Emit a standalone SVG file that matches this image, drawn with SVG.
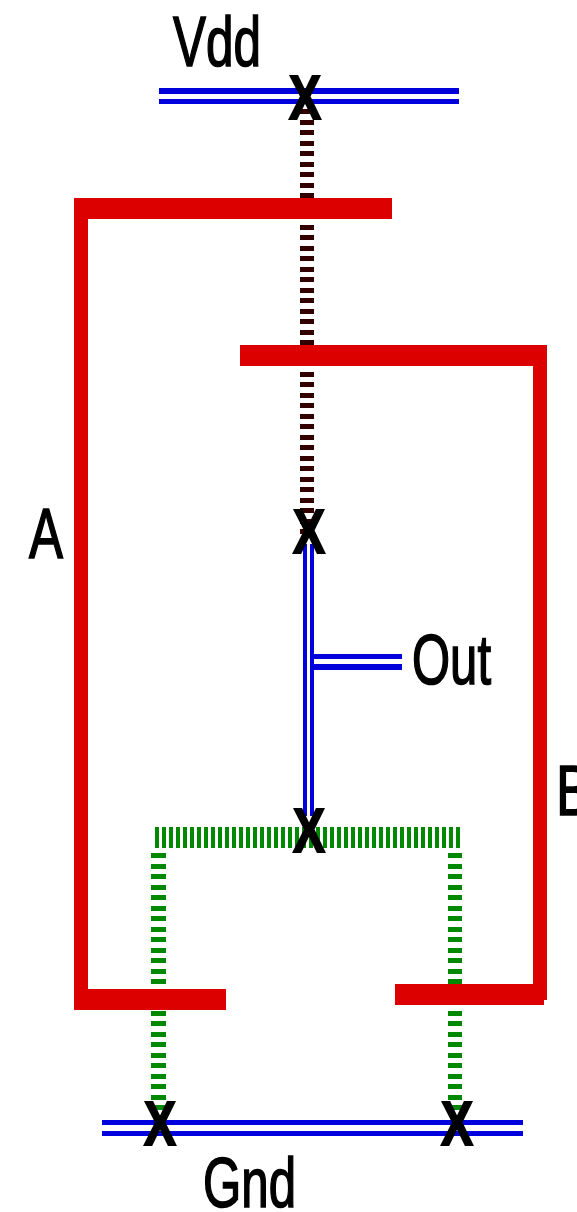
<svg xmlns="http://www.w3.org/2000/svg" width="577" height="1212" viewBox="0 0 577 1212">
<style>
text{font-family:"Liberation Sans",Arial,sans-serif;fill:#000}
.l{font-size:70px;stroke:#000;stroke-width:1.6px}
.x{font-size:63px;font-weight:bold;stroke:#000;stroke-width:2px}
.blue{fill:#0000dd}
.red{fill:#dd0000}
.poly{stroke:#330000;stroke-width:14;stroke-dasharray:5 5.5;fill:none;shape-rendering:crispEdges}
.diff{stroke:#008800;stroke-width:14.5;stroke-dasharray:5 5.5;fill:none;shape-rendering:crispEdges}
.diffh{stroke:#008800;stroke-width:21;stroke-dasharray:4 3;fill:none;shape-rendering:crispEdges}
</style>
<rect width="577" height="1212" fill="#fff"/>
<g id="connectors">
<path class="poly" d="M307 109V540"/>
<path class="diffh" d="M155 837.500H462"/>
<path class="diff" d="M158.500 853V1112"/>
<path class="diff" d="M455 853V1112"/>
<g id="metal">
<rect class="blue" x="159" y="88" width="300" height="6"/>
<rect class="blue" x="159" y="99" width="300" height="5"/>
<rect class="blue" x="303" y="544" width="4" height="272"/>
<rect class="blue" x="310" y="544" width="4" height="272"/>
<rect class="blue" x="314" y="654" width="88" height="5"/>
<rect class="blue" x="314" y="664" width="88" height="6"/>
<rect class="blue" x="102" y="1120" width="421" height="5"/>
<rect class="blue" x="102" y="1131" width="421" height="5"/>
</g>
</g>
<g id="gate-a">
<rect class="red" x="74" y="198" width="318" height="21"/>
<rect class="red" x="74" y="198" width="14" height="812"/>
<rect class="red" x="74" y="989" width="152" height="21"/>
<text class="l" x="29" y="558" textLength="34" lengthAdjust="spacingAndGlyphs">A</text>
</g>
<g id="gate-b">
<rect class="red" x="240" y="345" width="307" height="21"/>
<rect class="red" x="533" y="345" width="14" height="655"/>
<rect class="red" x="395" y="984" width="149" height="21"/>
<text class="l" x="556" y="815" textLength="36" lengthAdjust="spacingAndGlyphs">B</text>
</g>
<g id="vdd"><text class="l" x="173" y="66" textLength="88" lengthAdjust="spacingAndGlyphs">Vdd</text></g>
<g id="out"><text class="l" x="412" y="684" textLength="79" lengthAdjust="spacingAndGlyphs">Out</text></g>
<g id="gnd"><text class="l" x="203" y="1207" textLength="93" lengthAdjust="spacingAndGlyphs">Gnd</text></g>
<g id="contact-vdd"><text class="x" x="289" y="119" textLength="32" lengthAdjust="spacingAndGlyphs">X</text></g>
<g id="contact-out"><text class="x" x="293" y="553" textLength="32" lengthAdjust="spacingAndGlyphs">X</text></g>
<g id="contact-mid"><text class="x" x="293" y="852" textLength="32" lengthAdjust="spacingAndGlyphs">X</text></g>
<g id="contact-gnd-l"><text class="x" x="144" y="1145" textLength="32" lengthAdjust="spacingAndGlyphs">X</text></g>
<g id="contact-gnd-r"><text class="x" x="441" y="1145" textLength="32" lengthAdjust="spacingAndGlyphs">X</text></g>
</svg>
